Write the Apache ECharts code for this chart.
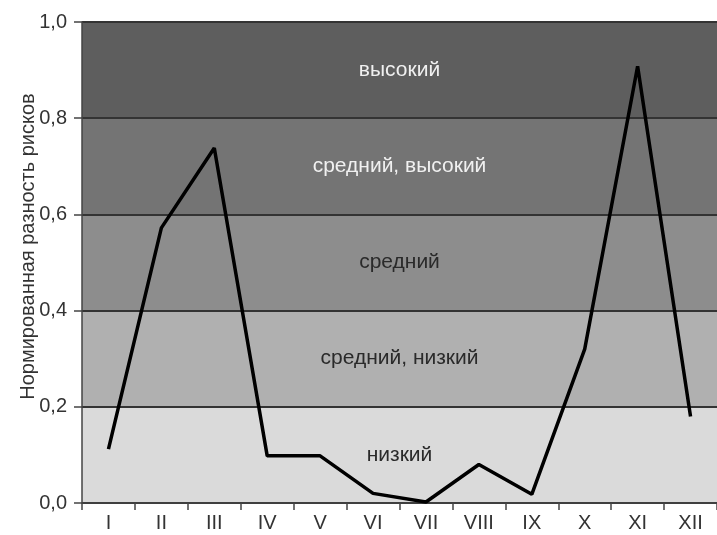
<!DOCTYPE html>
<html>
<head>
<meta charset="utf-8">
<script src="https://cdn.jsdelivr.net/npm/echarts@6/dist/echarts.min.js"></script>
<style>
html,body{margin:0;padding:0;background:#fff;}
#chart{width:717px;height:535px;}
</style>
</head>
<body>
<div id="chart"></div>
<script>
const categories = ['I','II','III','IV','V','VI','VII','VIII','IX','X','XI','XII'];
const riskValues = [0.112, 0.572, 0.738, 0.098, 0.098, 0.02, 0.002, 0.08, 0.018, 0.32, 0.908, 0.18];
const yTicks = [0, 0.2, 0.4, 0.6, 0.8, 1.0];
const bandFrom = [0.8, 0.6, 0.4, 0.2, 0.0];
const bandTo = [1.0, 0.8, 0.6, 0.4, 0.2];
const bandLabels = ['высокий', 'средний, высокий', 'средний', 'средний, низкий', 'низкий'];
const bandColors = ['#5e5e5e', '#747474', '#8d8d8d', '#b0b0b0', '#dadada'];
const bandTextColors = ['#f0f0f0', '#f0f0f0', '#2a2a2a', '#2a2a2a', '#2a2a2a'];
const yAxisTitle = 'Нормированная разность рисков';

const FONT = 'Liberation Sans, Arial, sans-serif';
const chart = echarts.init(document.getElementById('chart'), null, {renderer:'canvas'});
const markData = bandFrom.map((f, i) => [
  {yAxis: f, name: bandLabels[i], itemStyle:{color: bandColors[i]},
   label:{color: bandTextColors[i]}},
  {yAxis: bandTo[i]}
]);
chart.setOption({
  animation:false,
  backgroundColor:'#fff',
  grid:{left:82, top:22, width:644, height:481, containLabel:false},
  xAxis:{
    type:'category', data:categories, boundaryGap:true,
    axisLine:{lineStyle:{color:'#444', width:1.5}},
    axisTick:{show:true, length:7, lineStyle:{color:'#444', width:1.5}},
    axisLabel:{color:'#333', fontSize:20, fontFamily:FONT, margin:10}
  },
  yAxis:{
    type:'value', min:0, max:1, interval:0.2,
    name: yAxisTitle, nameLocation:'middle', nameGap:44, nameRotate:90,
    nameMoveOverlap:false,
    nameTextStyle:{color:'#333', fontSize:20, fontFamily:FONT, padding:[0,0,0,32]},
    axisLine:{show:true, lineStyle:{color:'#444', width:1.5}},
    axisTick:{show:true, length:8, lineStyle:{color:'#444', width:1.5}},
    axisLabel:{color:'#333', fontSize:20, fontFamily:FONT, margin:15,
      formatter: v => v.toFixed(1).replace('.', ',')},
    splitLine:{show:true, lineStyle:{color:'#333', width:2}}
  },
  series:[{
    type:'line', data:riskValues, symbol:'none', z:5,
    lineStyle:{color:'#000', width:3.5},
    markArea:{
      silent:true, z:-1,
      label:{show:true, position:'inside', fontSize:21, fontFamily:FONT},
      data: markData
    }
  }]
});
</script>
</body>
</html>
